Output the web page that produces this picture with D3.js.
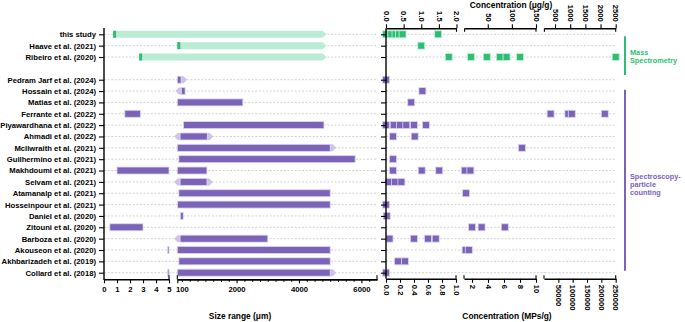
<!DOCTYPE html>
<html>
<head>
<meta charset="utf-8">
<script src="https://cdn.jsdelivr.net/npm/d3@7"></script>
<style>
  body { margin: 0; background: #fff; }
  svg { display: block; font-family: "Liberation Sans", Arial, sans-serif; font-weight: bold; }
</style>
</head>
<body>
<script>
// ---- data ----
const studies = [
  "this study", "Haave et al. (2021)", "Ribeiro et al. (2020)",
  "Pedram Jarf et al. (2024)", "Hossain et al. (2024)", "Matias et al. (2023)",
  "Ferrante et al. (2022)", "Piyawardhana et al. (2022)", "Ahmadi et al. (2022)",
  "McIlwraith et al. (2021)", "Guilhermino et al. (2021)", "Makhdoumi et al. (2021)",
  "Selvam et al. (2021)", "Atamanalp et al. (2021)", "Hosseinpour et al. (2021)",
  "Daniel et al. (2020)", "Zitouni et al. (2020)", "Barboza et al. (2020)",
  "Akouseon et al. (2020)", "Akhbarizadeh et al. (2019)", "Collard et al. (2018)"
];
const method = ["ms", "ms", "ms", "sp", "sp", "sp", "sp", "sp", "sp", "sp", "sp",
  "sp", "sp", "sp", "sp", "sp", "sp", "sp", "sp", "sp", "sp"];

// size range in µm (min, max), open-ended arrows
const sizeMin = [0.7, 100, 2.7, 100, 230, 100, 1.6, 300, 190, 100, 150, 1, 190, 150, 110, 200, 0.45, 190, 4.9, 150, 4.9];
const sizeMax = [4880, 4880, 4880, 220, 350, 2200, 2.8, 4800, 1060, 5000, 5800, 1050, 1050, 5000, 5000, 290, 3, 3000, 5000, 5000, 5000];
const arrowLeft = [0, 0, 0, 0, 1, 0, 0, 0, 1, 0, 0, 0, 1, 0, 0, 0, 0, 1, 0, 0, 0];
const arrowRight = [0, 0, 0, 1, 0, 0, 0, 0, 1, 1, 0, 0, 1, 0, 0, 0, 0, 0, 0, 0, 1];

// concentrations: µg/g for mass spectrometry rows, MPs/g for the others
const concentration = [
  [0, 0.15, 0.27, 0.37, 0.47, 1.48],
  [1.0],
  [1.78, 15, 48, 75, 89, 117, 2500],
  [0],
  [0.52],
  [0.36],
  [23000, 85000, 97000, 212000],
  [0, 0.11, 0.2, 0.29, 0.4, 0.57],
  [0.1, 0.41],
  [8.25],
  [0.1],
  [0.1, 0.51, 0.76, 1.1, 1.8],
  [0.04, 0.13, 0.22],
  [1.25],
  [0],
  [0.01],
  [2.0, 3.2, 6.1],
  [0.05, 0.4, 0.6, 0.71],
  [1.2, 1.6],
  [0.17, 0.27],
  [0]
];

const sizeTicksSmall = [0, 1, 2, 3, 4, 5];
const sizeTicksLarge = [100, 2000, 4000, 6000];
const massTicks = [[0, 0.5, 1, 1.5, 2], [50, 100, 150], [500, 1000, 1500, 2000, 2500]];
const countTicks = [[0, 0.2, 0.4, 0.6, 0.8, 1], [2, 4, 6, 8, 10], [50000, 100000, 150000, 200000, 250000]];
const groups = [
  { label: ["Mass", "Spectrometry"], method: "ms" },
  { label: ["Spectroscopy-", "particle", "counting"], method: "sp" }
];

// ---- styling ----
const W = 685, H = 322;
const col = {
  ms: "#2cbf74", msLight: "#b9ecd3", msEdge: "#c6f0db",
  sp: "#7b63b8", spLight: "#cdc3e8", spEdge: "#dcd4f2"
};
const barH = 7, sq = 7, fs = 7.7;

const svg = d3.select("body").append("svg")
  .attr("width", W)
  .attr("height", H);

svg.append("rect").attr("width", W).attr("height", H).attr("fill", "#fff");

// rows, with an empty slot between the two method groups
const y = d3.scalePoint()
  .domain([...studies.slice(0, 3), "", ...studies.slice(3)])
  .range([34.3, 272.7]);

// broken size axis
const xs1 = d3.scaleLinear().domain([0, 5]).range([104, 169]);
const xs2 = d3.scaleLinear().domain([100, 6500]).range([177.3, 377]);
const sizeX = v => (v <= 5 ? xs1(v) : xs2(v));

// broken concentration axes
const massSegs = [
  d3.scaleLinear().domain([0, 2]).range([386, 456.5]),
  d3.scaleLinear().domain([2, 150]).range([464.6, 536]),
  d3.scaleLinear().domain([150, 2500]).range([544.4, 615.7])
];
const countSegs = [
  d3.scaleLinear().domain([0, 1]).range([386, 456]),
  d3.scaleLinear().domain([1, 10]).range([464, 536]),
  d3.scaleLinear().domain([10, 250000]).range([544, 615.7])
];
const pick = (segs, v) => {
  const s = segs.find(s => v <= s.domain()[1]) || segs[segs.length - 1];
  return s(v);
};

const rows = studies.map((name, i) => ({
  name, i, method: method[i], min: sizeMin[i], max: sizeMax[i],
  left: arrowLeft[i], right: arrowRight[i], conc: concentration[i]
}));

// dashed row guides
const grid = svg.append("g").attr("stroke", "#bdbdbd").attr("stroke-width", 0.7)
  .attr("stroke-dasharray", "2,1.6");
grid.selectAll(".gl").data(rows).enter().append("line")
  .attr("x1", 104).attr("x2", 377)
  .attr("y1", d => y(d.name)).attr("y2", d => y(d.name));
grid.selectAll(".gr").data(rows).enter().append("line")
  .attr("x1", 386).attr("x2", 616)
  .attr("y1", d => y(d.name)).attr("y2", d => y(d.name));

// ---- size range bars ----
const bars = svg.append("g");

// mass spec rows: light band with arrow tip, dark start marker
rows.filter(d => d.method === "ms").forEach(d => {
  const x0 = sizeX(d.min), x1 = sizeX(d.max), yc = y(d.name);
  bars.append("path")
    .attr("d", `M${x0},${yc - barH / 2}H${x1 - 4}L${x1},${yc}L${x1 - 4},${yc + barH / 2}H${x0}Z`)
    .attr("fill", col.msLight);
  bars.append("rect")
    .attr("x", x0).attr("y", yc - barH / 2)
    .attr("width", 3).attr("height", barH)
    .attr("fill", col.ms);
});

// spectroscopy rows
rows.filter(d => d.method === "sp").forEach(d => {
  const yc = y(d.name);
  const segs = [];
  if (d.min <= 5) segs.push([xs1(d.min), xs1(Math.min(d.max, 5))]);
  if (d.max >= 100) segs.push([xs2(Math.max(d.min, 100)), xs2(d.max)]);
  const first = segs[0][0], last = segs[segs.length - 1][1];
  if (d.left) {
    bars.append("path")
      .attr("d", `M${first},${yc - barH / 2}H${first - 2.5}L${first - 6},${yc}L${first - 2.5},${yc + barH / 2}H${first}Z`)
      .attr("fill", col.spLight);
  }
  if (d.right) {
    bars.append("path")
      .attr("d", `M${last},${yc - barH / 2}H${last + 2.5}L${last + 6},${yc}L${last + 2.5},${yc + barH / 2}H${last}Z`)
      .attr("fill", col.spLight);
  }
  segs.forEach(([a, b]) => {
    bars.append("rect")
      .attr("x", a).attr("y", yc - barH / 2)
      .attr("width", Math.max(b - a, 1.2)).attr("height", barH)
      .attr("fill", col.sp)
      .attr("stroke", col.spEdge).attr("stroke-width", 0.8);
  });
});

// ---- concentration markers ----
const pts = svg.append("g");
rows.forEach(d => {
  const segs = d.method === "ms" ? massSegs : countSegs;
  pts.selectAll(null).data(d.conc).enter().append("rect")
    .attr("x", v => pick(segs, v) - sq / 2)
    .attr("y", y(d.name) - sq / 2)
    .attr("width", sq).attr("height", sq)
    .attr("fill", col[d.method])
    .attr("stroke", d.method === "ms" ? col.msEdge : col.spEdge)
    .attr("stroke-width", 0.8);
});

// ---- axes ----
const axisStyle = g => {
  g.selectAll(".domain").attr("stroke", "#000").attr("stroke-width", 1.4);
  g.selectAll(".tick line").attr("stroke", "#000").attr("stroke-width", 1.1);
  g.selectAll("text").attr("font-size", fs).attr("fill", "#000");
  g.attr("font-family", null).attr("font-size", null);
};

// left panel: study axis
svg.append("line").attr("x1", 104).attr("x2", 104).attr("y1", 28).attr("y2", 280)
  .attr("stroke", "#000").attr("stroke-width", 1.4);
svg.append("g")
  .attr("transform", "translate(104,0)")
  .call(d3.axisLeft(y).tickValues(studies).tickSize(5).tickPadding(3))
  .call(g => g.select(".domain").remove())
  .call(axisStyle);

// right panel: study ticks only
svg.append("line").attr("x1", 386).attr("x2", 386).attr("y1", 28.3).attr("y2", 278.8)
  .attr("stroke", "#000").attr("stroke-width", 1.4);
svg.append("g")
  .attr("transform", "translate(386,0)")
  .call(d3.axisLeft(y).tickValues(studies).tickSize(5).tickFormat(""))
  .call(g => g.select(".domain").remove())
  .call(axisStyle);

// size axis (bottom left), broken in two
const xAxisY = 279.3;
svg.append("g")
  .attr("transform", `translate(0,${xAxisY})`)
  .call(d3.axisBottom(xs1).tickValues(sizeTicksSmall).tickSize(4).tickSizeOuter(0)
    .tickPadding(3).tickFormat(d3.format("d")))
  .call(axisStyle);
svg.append("g")
  .attr("transform", `translate(0,${xAxisY})`)
  .call(d3.axisBottom(xs2).tickValues(d3.range(250, 6500, 250).filter(v => v % 2000 !== 0))
    .tickSize(2.5).tickSizeOuter(0).tickFormat(""))
  .call(axisStyle);
svg.append("g")
  .attr("transform", `translate(0,${xAxisY})`)
  .call(d3.axisBottom(xs2).tickValues(sizeTicksLarge).tickSize(4).tickSizeOuter(0)
    .tickPadding(3).tickFormat(d3.format("d")))
  .call(axisStyle)
  .call(g => g.selectAll(".tick").filter(d => d === 100).select("text").attr("dx", 4.5));
// segment caps
[xs1(5), xs2(100), xs2(6500)].forEach(x => {
  svg.append("line").attr("x1", x).attr("x2", x).attr("y1", xAxisY - 4).attr("y2", xAxisY)
    .attr("stroke", "#000").attr("stroke-width", 1.1);
});

svg.append("text")
  .attr("x", 240).attr("y", 319)
  .attr("text-anchor", "middle").attr("font-size", 8.4)
  .text("Size range (μm)");

// concentration axes (top: µg/g, bottom: MPs/g)
const topY = 28.3, botY = 278.8;

massSegs.forEach((s, k) => {
  const g = svg.append("g")
    .attr("transform", `translate(0,${topY})`)
    .call(d3.axisTop(s).tickValues(massTicks[k]).tickSize(4).tickSizeOuter(0)
      .tickFormat(k === 0 ? d3.format(".1f") : d3.format("d")))
    .call(axisStyle);
  g.selectAll("text")
    .attr("transform", "rotate(90)")
    .attr("x", -6.5).attr("y", 0).attr("dy", "0.35em")
    .attr("text-anchor", "end");
  s.range().forEach((x, j) => {
    if (k === 0 && j === 0) return;
    svg.append("line").attr("x1", x).attr("x2", x).attr("y1", topY).attr("y2", topY + 3.5)
      .attr("stroke", "#000").attr("stroke-width", 1.1);
  });
});

countSegs.forEach((s, k) => {
  const g = svg.append("g")
    .attr("transform", `translate(0,${botY})`)
    .call(d3.axisBottom(s).tickValues(countTicks[k]).tickSize(4).tickSizeOuter(0)
      .tickFormat(k === 0 ? d3.format(".1f") : d3.format("d")))
    .call(axisStyle);
  g.selectAll("text")
    .attr("transform", "rotate(90)")
    .attr("x", 6).attr("y", 0).attr("dy", "0.35em")
    .attr("text-anchor", "start");
  s.range().forEach((x, j) => {
    if (k === 0 && j === 0) return;
    svg.append("line").attr("x1", x).attr("x2", x).attr("y1", botY - 3.5).attr("y2", botY)
      .attr("stroke", "#000").attr("stroke-width", 1.1);
  });
});

svg.append("text")
  .attr("x", 511).attr("y", 8)
  .attr("text-anchor", "middle").attr("font-size", 8.4)
  .text("Concentration (μg/g)");
svg.append("text")
  .attr("x", 507).attr("y", 319)
  .attr("text-anchor", "middle").attr("font-size", 8.4)
  .text("Concentration (MPs/g)");

// ---- method group brackets ----
groups.forEach(gr => {
  const names = rows.filter(d => d.method === gr.method).map(d => y(d.name));
  const top = d3.min(names), bot = d3.max(names);
  const y0 = gr.method === "ms" ? top + 2 : top + 10;
  const y1 = gr.method === "ms" ? bot + 18 : bot - 2;
  svg.append("line")
    .attr("x1", 625).attr("x2", 625).attr("y1", y0).attr("y2", y1)
    .attr("stroke", col[gr.method]).attr("stroke-width", 2);
  const mid = gr.method === "ms" ? 52 : 176;
  const t = svg.append("text")
    .attr("x", 630).attr("y", mid + 3)
    .attr("font-size", 7.3).attr("fill", col[gr.method]);
  gr.label.forEach((line, j) => {
    t.append("tspan").attr("x", 630).attr("dy", j === 0 ? 0 : 8.2).text(line);
  });
});
</script>
</body>
</html>
